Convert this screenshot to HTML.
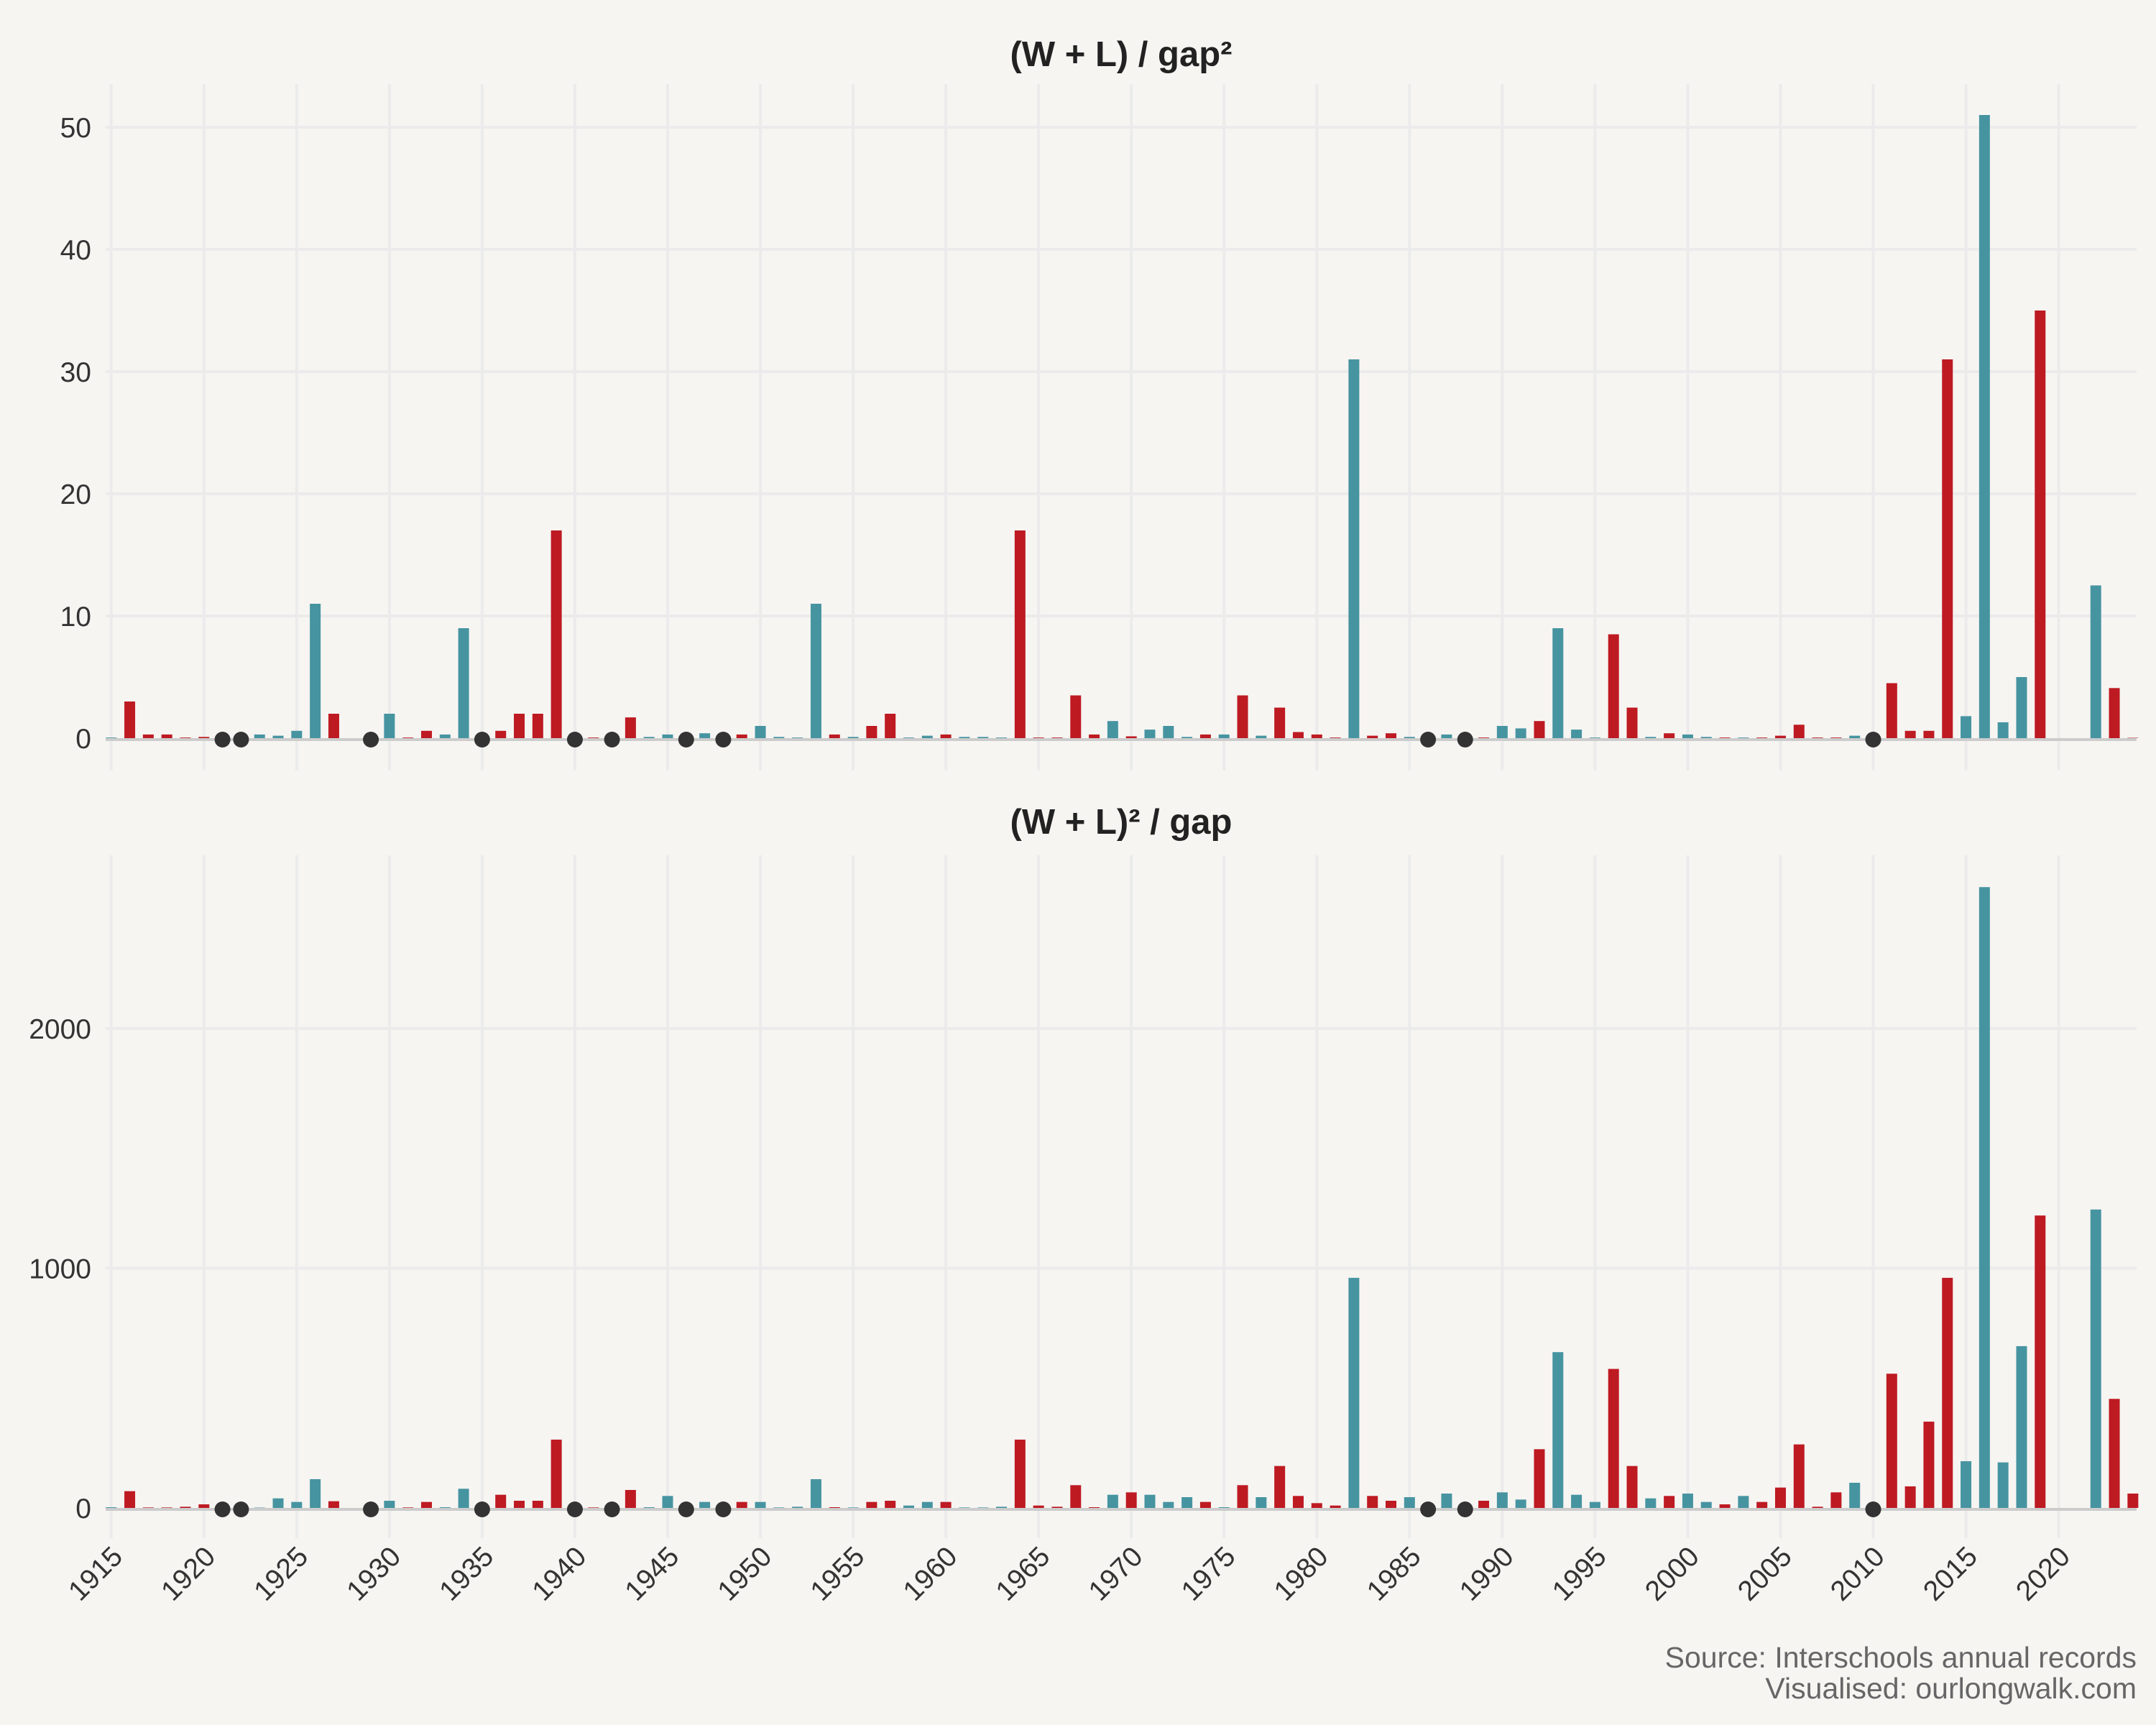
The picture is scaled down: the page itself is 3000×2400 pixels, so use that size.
<!DOCTYPE html>
<html><head><meta charset="utf-8">
<style>
html,body{margin:0;padding:0;background:#f6f5f2;}
svg{display:block;font-family:"Liberation Sans",Arial,sans-serif;}
</style></head>
<body>
<svg id="chart" width="3000" height="2400" viewBox="0 0 3000 2400" xmlns="http://www.w3.org/2000/svg">
<rect width="3000" height="2400" fill="#f6f5f2"/>
<text x="1560" y="92" text-anchor="middle" font-size="49" font-weight="bold" fill="#222">(W + L) / gap²</text>
<text x="1560" y="1160" text-anchor="middle" font-size="49" font-weight="bold" fill="#222">(W + L)² / gap</text>
<text x="2973" y="2320" text-anchor="end" font-size="41" fill="#666">Source: Interschools annual records</text>
<text x="2973" y="2363" text-anchor="end" font-size="41" fill="#666">Visualised: ourlongwalk.com</text>
<g id="top"></g>
<g id="bottom"></g>
<g id="xlabels"></g>
</svg>
<script>
const years = [1915,1916,1917,1918,1919,1920,1923,1924,1925,1926,1927,1930,1931,1932,1933,1934,1936,1937,1938,1939,1941,1943,1944,1945,1947,1949,1950,1951,1952,1953,1954,1955,1956,1957,1958,1959,1960,1961,1962,1963,1964,1965,1966,1967,1968,1969,1970,1971,1972,1973,1974,1975,1976,1977,1978,1979,1980,1981,1982,1983,1984,1985,1987,1989,1990,1991,1992,1993,1994,1995,1996,1997,1998,1999,2000,2001,2002,2003,2004,2005,2006,2007,2008,2009,2011,2012,2013,2014,2015,2016,2017,2018,2019,2022,2023,2024];
const winners = ["t","r","r","r","r","r","t","t","t","t","r","t","r","r","t","t","r","r","r","r","r","r","t","t","t","r","t","t","t","t","r","t","r","r","t","t","r","t","t","t","r","r","r","r","r","t","r","t","t","t","r","t","r","t","r","r","r","r","t","r","r","t","t","r","t","t","r","t","t","t","r","r","t","r","t","t","r","t","r","r","r","r","r","t","r","r","r","r","t","t","t","t","r","t","r","r"];
const topValues = [0.05,3,0.3,0.3,0.05,0.1,0.3,0.2,0.6,11,2,2,0.05,0.6,0.3,9,0.6,2,2,17,0.05,1.7,0.1,0.3,0.4,0.3,1,0.1,0.05,11,0.3,0.1,1,2,0.05,0.2,0.3,0.1,0.1,0.05,17,0.05,0.05,3.5,0.3,1.4,0.15,0.7,1,0.1,0.3,0.3,3.5,0.2,2.5,0.5,0.3,0.05,31,0.2,0.4,0.1,0.3,0.05,1,0.8,1.4,9,0.7,0.05,8.5,2.5,0.1,0.4,0.3,0.1,0.05,0.05,0.05,0.2,1.1,0.05,0.05,0.2,4.5,0.6,0.6,31,1.8,51,1.3,5,35,12.5,4.1,0];
const bottomValues = [3,70,2,2,5,15,1,40,25,120,28,30,2,25,3,80,55,30,30,285,2,75,3,50,25,25,25,2,5,120,3,2,25,30,10,25,25,2,2,5,285,10,5,95,3,55,65,55,25,45,25,3,95,45,175,50,20,10,960,50,30,45,60,30,65,35,245,650,55,25,580,175,40,50,60,25,15,50,25,85,265,5,65,105,560,90,360,960,195,2590,190,675,1220,1245,455,60];
const zeroYears = [1921,1922,1929,1935,1940,1942,1946,1948,1986,1988,2010];
const topTicks = [0,10,20,30,40,50];
const bottomTicks = [0,1000,2000];
const xTicks = [1915,1920,1925,1930,1935,1940,1945,1950,1955,1960,1965,1970,1975,1980,1985,1990,1995,2000,2005,2010,2015,2020];

const NS = "http://www.w3.org/2000/svg";
const X0 = 147, X1 = 2973, Y0MIN = 1914.7, Y0MAX = 2024.2;
function xs(y){ return X0 + (y - Y0MIN) / (Y0MAX - Y0MIN) * (X1 - X0); }
const topY = v => 1027 - v * 17.0;
const botY = v => 2098 - v * 0.3335;
const colors = {r:"#be1a22", t:"#4794a1"};
function mk(tag, attrs, parent){ const e = document.createElementNS(NS, tag); for (const k in attrs) e.setAttribute(k, attrs[k]); parent.appendChild(e); return e; }

function panel(g, yScale, vals, ticks, gTop, gBottom, prefix){
  xTicks.forEach(t => {
    const l = mk("line", {x1:xs(t), x2:xs(t), y1:gTop, y2:gBottom, stroke:"#ebebeb", "stroke-width":4}, g);
    
    
  });
  ticks.forEach(t => {
    if (t !== 0) {
      const l = mk("line", {x1:X0, x2:X1, y1:yScale(t), y2:yScale(t), stroke:"#ebebeb", "stroke-width":4}, g);
      
      
    }
    const tx = mk("text", {x:127, y:yScale(t)+14, "text-anchor":"end", "font-size":39, fill:"#333"}, g);
    tx.textContent = t;
    
    
  });
  years.forEach((yr, i) => {
    const v = vals[i];
    const y = yScale(v), h = Math.max(yScale(0) - y, 0.5);
    const r = mk("rect", {x:xs(yr)-7.5, y:yScale(0)-h, width:15, height:h, fill:colors[winners[i]]}, g);
    
    
  });
  const z = mk("line", {x1:X0, x2:X1, y1:yScale(0)+2, y2:yScale(0)+2, stroke:"#cccccc", "stroke-width":4}, g);
  
  
  zeroYears.forEach(yr => {
    const c = mk("ellipse", {cx:xs(yr), cy:yScale(0)+2, rx:11, ry:11, fill:"#333"}, g);
    
    
  });
}
panel(document.getElementById("top"), topY, topValues, topTicks, 117, 1072, "top");
panel(document.getElementById("bottom"), botY, bottomValues, bottomTicks, 1190, 2140, "bottom");
const xl = document.getElementById("xlabels");
xTicks.forEach(t => {
  const tx = mk("text", {x:0, y:0, "text-anchor":"end", "font-size":39, fill:"#333", transform:`translate(${xs(t)+18},${2168}) rotate(-45)`}, xl);
  tx.textContent = t;
  
  
});
</script>
</body></html>
